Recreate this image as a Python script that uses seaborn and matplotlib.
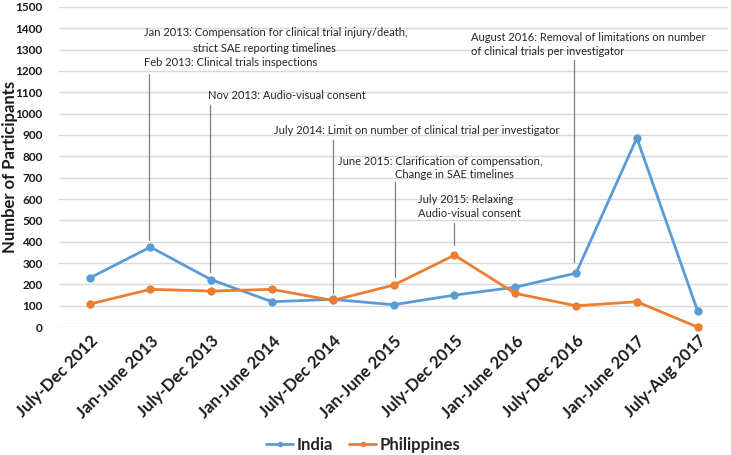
import numpy as np
import pandas as pd
import matplotlib.pyplot as plt
import matplotlib.transforms as mtransforms
import seaborn as sns

# Chart data
periods = ["July-Dec 2012", "Jan-June 2013", "July-Dec 2013", "Jan-June 2014",
           "July-Dec 2014", "Jan-June 2015", "July-Dec 2015", "Jan-June 2016",
           "July-Dec 2016", "Jan-June 2017", "July-Aug 2017"]
india = [230, 375, 222, 119, 130, 105, 150, 187, 253, 886, 75]
philippines = [108, 177, 169, 177, 125, 197, 337, 158, 100, 119, 0]

# Annotation texts (text, x index, y value)
notes = [
    ("Jan 2013: Compensation for clinical trial injury/death,", 0.90, 1378),
    ("strict SAE reporting timelines", 1.70, 1303),
    ("Feb 2013: Clinical trials inspections", 0.90, 1238),
    ("Nov 2013: Audio-visual consent", 1.95, 1083),
    ("July 2014: Limit on number of clinical trial per investigator", 3.04, 919),
    ("June 2015: Clarification of compensation,", 4.09, 778),
    ("Change in SAE timelines", 5.03, 717),
    ("July 2015: Relaxing", 5.40, 600),
    ("Audio-visual consent", 5.40, 534),
    ("August 2016: Removal of limitations on number", 6.28, 1355),
    ("of clinical trials per investigator", 6.28, 1289),
]
# Leader lines (x index, y top, y bottom)
leaders = [(0.98, 1186, 407), (1.98, 1040, 258), (4.0, 877, 160),
           (5.02, 681, 235), (6.0, 489, 384), (7.97, 1252, 305)]

df = pd.DataFrame({
    "period": periods * 2,
    "idx": list(range(len(periods))) * 2,
    "value": india + philippines,
    "country": ["India"] * len(periods) + ["Philippines"] * len(periods),
})

sns.set_theme(style="white")
plt.rcParams["font.family"] = ["Lato", "DejaVu Sans"]

fig, ax = plt.subplots(figsize=(7.31, 4.55), dpi=100)
fig.subplots_adjust(left=0.081, right=0.996, top=0.985, bottom=0.281)

sns.lineplot(data=df, x="idx", y="value", hue="country", marker="o",
             palette={"India": "#5B9BD5", "Philippines": "#ED7D31"},
             linewidth=2, markersize=6, markeredgewidth=0, ax=ax, zorder=3)
for ln in ax.lines:
    ln.set_clip_on(False)

ax.set_xlim(-0.5, len(periods) - 0.5)
ax.set_ylim(0, 1500)
ax.set_yticks(np.arange(0, 1501, 100))
ax.yaxis.grid(True, color="#d9d9d9", linewidth=1)
ax.set_axisbelow(True)
for s in ax.spines.values():
    s.set_visible(False)

ax.set_xticks(range(len(periods)))
ax.set_xticklabels(periods, rotation=45, ha="right", rotation_mode="anchor",
                   fontsize=12, fontweight="bold", color="#1a1a1a")
shift = mtransforms.ScaledTranslation(2 / 100, -14 / 100, fig.dpi_scale_trans)
for lab in ax.get_xticklabels():
    lab.set_transform(lab.get_transform() + shift)
for lab in ax.get_yticklabels():
    lab.set_fontweight("bold")
    lab.set_fontsize(8.5)
    lab.set_color("#1a1a1a")
ax.tick_params(axis="both", length=0, pad=4)
ax.tick_params(axis="y", pad=12)
ax.set_xlabel("")
ax.set_ylabel("Number of Participants", fontsize=12, fontweight="bold",
              color="#1a1a1a")
ax.yaxis.set_label_coords(-0.062, 0.5)

for txt, x, y in notes:
    ax.text(x, y, txt, fontsize=8, ha="left", va="center", color="#262626")
for x, y0, y1 in leaders:
    ax.plot([x, x], [y0, y1], color="#7f7f7f", linewidth=0.9, zorder=2)

handles, labels = ax.get_legend_handles_labels()
for h in handles:
    h.set_markersize(4)
ax.get_legend().remove()
fig.legend(handles, labels, loc="center", bbox_to_anchor=(0.497, 0.022),
           ncol=2, frameon=False, prop={"weight": "bold", "size": 12},
           handlelength=1.6, columnspacing=1.0, handletextpad=0.2)

fig.savefig("out.png", dpi=100)
